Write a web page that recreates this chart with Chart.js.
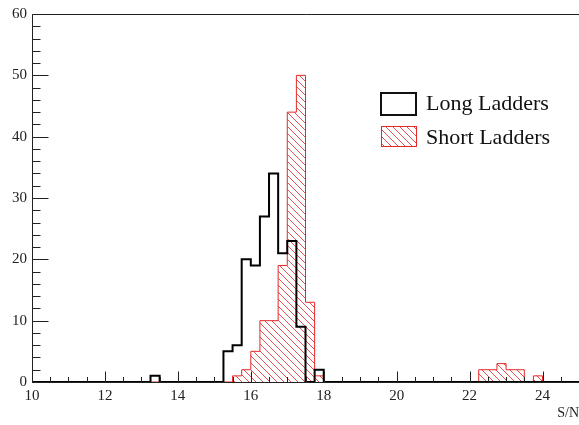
<!DOCTYPE html>
<html>
<head>
<meta charset="utf-8">
<script src="https://cdn.jsdelivr.net/npm/chart.js@4"></script>
<style>
  html, body { margin: 0; padding: 0; background: #fff; }
  #wrap { width: 579px; height: 425px; }
</style>
</head>
<body>
<div id="wrap"><canvas id="histChart" width="579" height="425"></canvas></div>
<script>
// histogram binning: 60 bins of 0.25 from 10 to 25
const binLow = 10;
const binWidth = 0.25;
const xTickLabels = [10, 12, 14, 16, 18, 20, 22, 24];
const yTickLabels = [0, 10, 20, 30, 40, 50, 60];

// counts per bin (bin 0 = 10.00-10.25 ... bin 59 = 24.75-25.00)
const longLadders = [
  0, 0, 0, 0, 0, 0, 0, 0, 0, 0,
  0, 0, 0, 1, 0, 0, 0, 0, 0, 0,
  0, 5, 6, 20, 19, 27, 34, 21, 23, 9,
  0, 2, 0, 0, 0, 0, 0, 0, 0, 0,
  0, 0, 0, 0, 0, 0, 0, 0, 0, 0,
  0, 0, 0, 0, 0, 0, 0, 0, 0, 0,
];
const shortLadders = [
  0, 0, 0, 0, 0, 0, 0, 0, 0, 0,
  0, 0, 0, 0, 0, 0, 0, 0, 0, 0,
  0, 0, 1, 2, 5, 10, 10, 19, 44, 50,
  13, 1, 0, 0, 0, 0, 0, 0, 0, 0,
  0, 0, 0, 0, 0, 0, 0, 0, 0, 2,
  2, 3, 2, 2, 0, 1, 0, 0, 0, 0,
];

const serif = '"Liberation Serif", "DejaVu Serif", serif';

function stepPoints(vals) {
  const pts = vals.map((v, i) => ({ x: binLow + i * binWidth, y: v }));
  pts.push({ x: binLow + vals.length * binWidth, y: vals[vals.length - 1] });
  return pts;
}

// red \\\ hatch like ROOT fill style 3005
function makeHatch() {
  const s = 7;
  const c = document.createElement('canvas');
  c.width = s; c.height = s;
  const g = c.getContext('2d');
  g.strokeStyle = 'rgba(225,50,50,0.85)';
  g.lineWidth = 1;
  g.beginPath();
  g.moveTo(-1, -1); g.lineTo(s + 1, s + 1);
  g.moveTo(-1, s - 1); g.lineTo(1, s + 1);
  g.moveTo(s - 1, -1); g.lineTo(s + 1, 1);
  g.stroke();
  return g.createPattern(c, 'repeat');
}
const hatch = makeHatch();

// frame, inward ticks and legend, ROOT style
const rootFrame = {
  id: 'rootFrame',
  afterDraw(chart) {
    const ctx = chart.ctx;
    const a = chart.chartArea;
    const xs = chart.scales.x, ys = chart.scales.y;
    ctx.save();
    ctx.strokeStyle = '#222';
    ctx.lineWidth = 1;
    ctx.beginPath();
    const L = Math.round(a.left) + 0.5, T = Math.round(a.top) + 0.5;
    const B = Math.round(a.bottom) + 0.5, R = a.right + 2;
    // right side of the frame falls just outside the picture
    ctx.moveTo(R, T); ctx.lineTo(L, T); ctx.lineTo(L, B); ctx.lineTo(R, B);
    // x ticks: major every 2, minor every 0.5
    for (let v = 10; v <= 25.001; v += 0.5) {
      const px = Math.round(xs.getPixelForValue(v)) + 0.5;
      const len = (Math.abs(v % 2) < 1e-6) ? 11 : 5.5;
      ctx.moveTo(px, B); ctx.lineTo(px, B - len);
    }
    // y ticks: major every 10, minor every 2
    for (let v = 0; v <= 60.001; v += 2) {
      const py = Math.round(ys.getPixelForValue(v)) + 0.5;
      const len = (v % 10 === 0) ? 16 : 8;
      ctx.moveTo(L, py); ctx.lineTo(L + len, py);
    }
    ctx.stroke();

    // legend
    const lx = a.left + 349, ly = a.top + 79;
    ctx.lineWidth = 2;
    ctx.strokeStyle = '#111';
    ctx.strokeRect(lx, ly, 35, 22);
    ctx.fillStyle = hatch;
    ctx.fillRect(lx, ly + 34, 35, 20);
    ctx.lineWidth = 1;
    ctx.strokeStyle = 'rgb(230,40,40)';
    ctx.strokeRect(lx + 0.5, ly + 33.5, 35, 20);
    ctx.fillStyle = '#111';
    ctx.font = '22px ' + serif;
    ctx.textBaseline = 'alphabetic';
    ctx.fillText('Long Ladders', lx + 45, ly + 17);
    ctx.fillText('Short Ladders', lx + 45, ly + 51);
    ctx.restore();
  }
};

new Chart(document.getElementById('histChart'), {
  type: 'line',
  data: {
    datasets: [
      {
        label: 'Long Ladders',
        data: stepPoints(longLadders),
        stepped: true,
        borderColor: '#000',
        borderWidth: 2,
        pointRadius: 0,
        fill: false,
        order: 0,
      },
      {
        label: 'Short Ladders',
        data: stepPoints(shortLadders),
        stepped: true,
        borderColor: 'rgb(230,40,40)',
        borderWidth: 1,
        backgroundColor: hatch,
        pointRadius: 0,
        fill: 'origin',
        order: 1,
      },
    ],
  },
  options: {
    responsive: false,
    animation: false,
    layout: { padding: { top: 14, left: 0, right: 0, bottom: 0 } },
    plugins: { legend: { display: false }, tooltip: { enabled: false } },
    scales: {
      x: {
        type: 'linear',
        min: 10,
        max: 25,
        grid: { display: false, drawTicks: false },
        border: { display: false },
        afterBuildTicks: (s) => { s.ticks = xTickLabels.map(v => ({ value: v })); },
        afterFit: (s) => { s.height = 43; },
        ticks: {
          padding: 5,
          maxRotation: 0,
          color: '#222',
          font: { family: serif, size: 15 },
        },
        title: {
          display: true,
          text: 'S/N',
          align: 'end',
          color: '#222',
          padding: { top: 0, bottom: 3 },
          font: { family: serif, size: 14 },
        },
      },
      y: {
        min: 0,
        max: 60,
        grid: { display: false, drawTicks: false },
        border: { display: false },
        afterBuildTicks: (s) => { s.ticks = yTickLabels.map(v => ({ value: v })); },
        afterFit: (s) => { s.width = 32; },
        ticks: {
          padding: 5,
          color: '#222',
          font: { family: serif, size: 15 },
        },
      },
    },
  },
  plugins: [rootFrame],
});
</script>
</body>
</html>
